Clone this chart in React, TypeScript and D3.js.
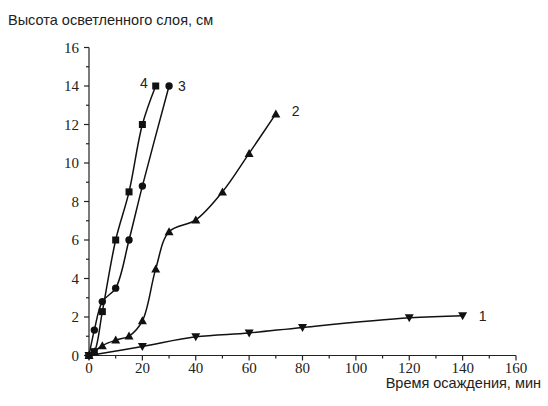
import React from "react";
import * as d3 from "d3";

const s1x = [0, 20, 40, 60, 80, 120, 140];
const s1y = [0, 0.47, 0.97, 1.17, 1.46, 1.96, 2.07];
const s2x = [0, 2, 5, 10, 15, 20, 25, 30, 40, 50, 60, 70];
const s2y = [0, 0.2, 0.51, 0.8, 1.01, 1.8, 4.5, 6.43, 7.04, 8.5, 10.5, 12.55];
const s3x = [0, 2, 5, 10, 15, 20, 30];
const s3y = [0, 1.32, 2.8, 3.5, 6.0, 8.8, 14.0];
const s4x = [0, 2, 5, 10, 15, 20, 25];
const s4y = [0, 0.2, 2.28, 6.0, 8.5, 12.0, 14.0];
const xTicks = [0, 20, 40, 60, 80, 100, 120, 140, 160];
const yTicks = [0, 2, 4, 6, 8, 10, 12, 14, 16];
const seriesLabels = ["1", "2", "3", "4"];
const yTitle = "Высота осветленного слоя, см";
const xTitle = "Время осаждения, мин";

const SANS = "'Liberation Sans', Arial, sans-serif";
const SERIF = "'Liberation Serif', 'DejaVu Serif', serif";

export default function App() {
  const W = 548, H = 406;
  const x = d3.scaleLinear().domain([0, 160]).range([89, 516]);
  const y = d3.scaleLinear().domain([0, 16]).range([355.5, 47.5]);
  const line = d3
    .line<[number, number]>()
    .x((d) => x(d[0]))
    .y((d) => y(d[1]))
    .curve(d3.curveCatmullRom.alpha(0.5));
  const zip = (a: number[], b: number[]) => a.map((v, i) => [v, b[i]] as [number, number]);
  const series = [
    { pts: zip(s1x, s1y), m: "down" },
    { pts: zip(s2x, s2y), m: "up" },
    { pts: zip(s3x, s3y), m: "circle" },
    { pts: zip(s4x, s4y), m: "square" },
  ];
  const marker = (m: string, cx: number, cy: number, k: string) => {
    if (m === "square") return <rect key={k} x={cx - 3.5} y={cy - 3.5} width={7} height={7} fill="#111" />;
    if (m === "circle") return <circle key={k} cx={cx} cy={cy} r={3.7} fill="#111" />;
    if (m === "up")
      return <path key={k} d={`M${cx},${cy - 4.5}L${cx + 4.5},${cy + 3.5}L${cx - 4.5},${cy + 3.5}Z`} fill="#111" />;
    return <path key={k} d={`M${cx},${cy + 4.5}L${cx + 4.5},${cy - 3.5}L${cx - 4.5},${cy - 3.5}Z`} fill="#111" />;
  };
  const minorX = d3.range(0, 161, 10);
  const minorY = d3.range(0, 17, 1);
  const labelPos = [
    { t: seriesLabels[0], x: x(140) + 16, y: y(2.07) + 5, a: "start" },
    { t: seriesLabels[1], x: x(70) + 16, y: y(12.55) + 2, a: "start" },
    { t: seriesLabels[2], x: x(30) + 9, y: y(14) + 5, a: "start" },
    { t: seriesLabels[3], x: x(25) - 8, y: y(14) + 2, a: "end" },
  ];
  return (
    <svg width={W} height={H} style={{ position: "absolute", left: 0, top: 0, background: "#fff" }}>
      <rect width={W} height={H} fill="#fff" />
      <text x={8} y={25} style={{ fontFamily: SANS, fontSize: "14.5px" }} fill="#222">
        {yTitle}
      </text>
      <text x={541} y={388} textAnchor="end" style={{ fontFamily: SANS, fontSize: "14.5px" }} fill="#222">
        {xTitle}
      </text>
      <g stroke="#222" strokeWidth={1.2} fill="none">
        <line x1={x(0)} x2={x(160)} y1={y(0)} y2={y(0)} />
        <line x1={x(0)} x2={x(0)} y1={y(0)} y2={y(16)} />
        {minorX.map((v) => (
          <line key={"mx" + v} x1={x(v)} x2={x(v)} y1={y(0)} y2={y(0) + (v % 20 === 0 ? 5 : 3)} />
        ))}
        {minorY.map((v) => (
          <line key={"my" + v} x1={x(0)} x2={x(0) - (v % 2 === 0 ? 5 : 3)} y1={y(v)} y2={y(v)} />
        ))}
      </g>
      <g style={{ fontFamily: SERIF, fontSize: "15px" }} fill="#222">
        {xTicks.map((v) => (
          <text key={"xt" + v} x={x(v)} y={y(0) + 17} textAnchor="middle">
            {v}
          </text>
        ))}
        {yTicks.map((v) => (
          <text key={"yt" + v} x={x(0) - 10} y={y(v) + 5} textAnchor="end">
            {v}
          </text>
        ))}
      </g>
      {series.map((s, i) => (
        <g key={"s" + i}>
          <path d={line(s.pts) || ""} fill="none" stroke="#111" strokeWidth={1.5} />
          {s.pts.map((p, j) => marker(s.m, x(p[0]), y(p[1]), i + "-" + j))}
        </g>
      ))}
      <g style={{ fontFamily: SANS, fontSize: "14px" }} fill="#222">
        {labelPos.map((l) => (
          <text key={"l" + l.t} x={l.x} y={l.y} textAnchor={l.a as any}>
            {l.t}
          </text>
        ))}
      </g>
    </svg>
  );
}
